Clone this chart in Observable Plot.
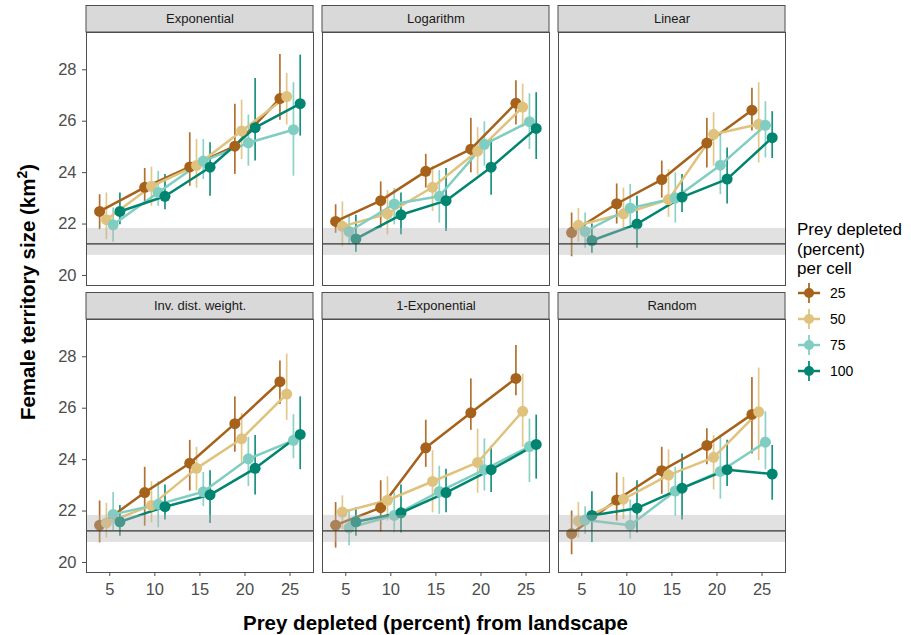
<!DOCTYPE html>
<html><head><meta charset="utf-8">
<script src="https://cdn.jsdelivr.net/npm/d3@7"></script>
<script src="https://cdn.jsdelivr.net/npm/@observablehq/plot@0.6"></script>
<style>
html,body{margin:0;padding:0;background:#fff;}
#wrap{position:relative;width:911px;height:635px;overflow:hidden;font-family:"Liberation Sans",Arial,sans-serif;}
#wrap svg{position:absolute;left:0;top:0;overflow:visible;}
.ytitle{position:absolute;left:28px;top:292px;transform:translate(-50%,-50%) rotate(-90deg);white-space:nowrap;font-weight:bold;font-size:20.5px;color:#000;line-height:20px;}
.ytitle sup{font-size:14px;line-height:0;}
.xtitle{position:absolute;left:435.5px;top:613px;transform:translateX(-50%);white-space:nowrap;font-weight:bold;font-size:20.5px;line-height:20px;color:#000;}
#legend{position:absolute;left:797px;top:220px;white-space:nowrap;}
#legend .lt{font-size:17px;line-height:19.5px;color:#000;}
#legend .row{position:absolute;left:0;height:26px;display:flex;align-items:center;}
#legend .row span{position:absolute;left:33px;font-size:14px;color:#000;line-height:26px;top:0;}
</style></head><body>
<div id="wrap"></div>
<script>
// ---- data ----
const panels = ["Exponential","Logarithm","Linear","Inv. dist. weight.","1-Exponential","Random"];
const depletion = [5, 10, 15, 20, 25];
const perCell = ["25","50","75","100"];
const colors = ["#A6611A","#DFC27D","#80CDC1","#018571"];
const dodge = [-1.125, -0.375, 0.375, 1.125];
const yTicks = [20, 22, 24, 26, 28];
const refLine = [21.23];
const refBand = [20.78, 21.83];

const expMean = [[22.49,23.43,24.22,25.03,26.88],[22.17,23.47,24.28,25.62,26.96],[21.97,23.23,24.45,25.16,25.67],[22.49,23.08,24.21,25.75,26.68]];
const expLo   = [[21.78,22.75,23.47,23.93,26.04],[21.39,22.69,23.40,24.51,25.85],[21.29,22.69,23.73,24.25,23.86],[21.97,22.56,23.08,24.45,25.42]];
const expHi   = [[23.14,24.16,25.55,26.66,28.59],[23.21,24.21,25.29,26.82,27.86],[22.62,24.05,25.29,26.24,27.50],[23.21,23.93,25.16,27.66,28.57]];

const logMean = [[22.10,22.91,24.05,24.91,26.70],[21.91,22.40,23.43,24.84,26.55],[21.71,22.78,23.08,25.10,25.98],[21.42,22.36,22.91,24.21,25.72]];
const logLo   = [[21.64,21.84,23.40,23.99,25.85],[21.12,21.58,22.49,23.90,25.75],[21.19,21.97,22.04,24.25,24.90],[20.90,21.58,21.71,23.12,24.51]];
const logHi   = [[22.75,23.64,24.71,26.11,27.57],[22.86,23.30,24.25,25.75,27.44],[22.30,23.38,24.08,25.98,27.07],[22.34,23.21,24.16,25.29,27.11]];

const linMean = [[21.67,22.79,23.73,25.15,26.43],[21.95,22.40,22.95,25.49,25.88],[21.71,22.62,23.01,24.29,25.84],[21.36,22.00,23.05,23.75,25.36]];
const linLo   = [[20.73,22.00,23.01,24.18,25.62],[21.29,21.78,22.26,24.25,24.38],[21.06,21.84,22.04,23.14,24.57],[20.86,21.06,22.45,22.78,24.55]];
const linHi   = [[22.43,23.56,24.45,26.11,27.28],[22.60,23.40,24.12,26.33,27.50],[22.43,23.54,23.99,25.49,26.76],[22.00,23.08,23.93,24.96,26.37]];

const idwMean = [[21.45,22.72,23.86,25.40,27.03],[21.54,22.22,23.66,24.81,26.55],[21.87,22.26,22.75,24.03,24.75],[21.58,22.17,22.63,23.66,24.98]];
const idwLo   = [[20.76,21.41,22.78,24.29,26.14],[20.95,21.54,22.78,23.89,25.53],[21.22,21.35,22.17,22.95,24.03],[21.02,21.65,21.52,22.62,23.61]];
const idwHi   = [[22.39,23.70,24.75,26.44,27.84],[22.30,23.14,24.48,25.79,28.10],[22.72,23.14,23.50,24.87,25.75],[22.22,23.01,23.57,24.94,26.44]];

const oneMean = [[21.45,22.13,24.46,25.82,27.16],[21.96,22.42,23.15,23.89,25.88],[21.35,21.83,22.76,23.61,24.51],[21.58,21.93,22.72,23.61,24.59]];
const oneLo   = [[20.56,21.18,23.70,25.14,26.48],[21.28,21.61,21.93,22.69,24.48],[20.65,21.15,21.87,22.78,23.11],[21.02,21.15,21.93,22.72,23.24]];
const oneHi   = [[22.33,23.18,25.53,27.14,28.44],[22.59,23.33,24.35,25.18,27.32],[22.00,22.72,23.74,24.81,25.57],[22.13,23.01,23.63,24.52,25.73]];

const rndMean = [[21.12,22.43,23.57,24.55,25.76],[21.61,22.46,23.40,24.09,25.86],[21.65,21.45,22.78,23.54,24.68],[21.83,22.11,22.89,23.61,23.44]];
const rndLo   = [[20.30,21.61,22.65,23.80,24.22],[20.95,21.67,22.48,22.82,23.96],[21.09,20.91,21.80,22.46,23.61],[20.78,21.15,21.65,22.95,22.42]];
const rndHi   = [[22.00,23.48,24.48,25.20,27.19],[22.33,23.31,24.38,24.94,27.56],[22.17,22.43,23.70,24.91,25.86],[22.75,23.18,24.22,24.75,24.55]];

// ---- table ----
const means = [expMean, logMean, linMean, idwMean, oneMean, rndMean];
const los = [expLo, logLo, linLo, idwLo, oneLo, rndLo];
const his = [expHi, logHi, linHi, idwHi, oneHi, rndHi];
const rows = [];
panels.forEach((p, pi) => {
  perCell.forEach((s, si) => {
    depletion.forEach((x, xi) => {
      rows.push({panel: p, col: pi % 3, row: Math.floor(pi / 3), series: s,
        x: x + dodge[si], y: means[pi][si][xi], lo: los[pi][si][xi], hi: his[pi][si][xi]});
    });
  });
});
const strips = panels.map((p, pi) => ({panel: p, col: pi % 3, row: Math.floor(pi / 3)}));

const xDomain = [2.42, 27.6];
const yDomain = [19.61, 29.45];
const stripUnits = 26.5 / (253 / (yDomain[1] - yDomain[0]));

const chart = Plot.plot({
  width: 911, height: 635,
  marginLeft: 86, marginRight: 126, marginTop: 32, marginBottom: 63,
  style: {fontFamily: "'Liberation Sans', Arial, sans-serif", background: "white", overflow: "visible"},
  fx: {domain: [0, 1, 2], paddingInner: 9 / 236, paddingOuter: 0, round: false, axis: null},
  fy: {domain: [0, 1], paddingInner: 34 / 287, paddingOuter: 0, round: false, axis: null},
  x: {domain: xDomain},
  y: {domain: yDomain},
  color: {domain: perCell, range: colors},
  marks: [
    Plot.ruleX(rows, {fx: "col", fy: "row", x: "x", y1: "lo", y2: "hi", stroke: "series", strokeWidth: 1.7, strokeOpacity: 0.9}),
    Plot.line(rows, {fx: "col", fy: "row", x: "x", y: "y", z: "series", stroke: "series", strokeWidth: 2.5}),
    Plot.dot(rows, {fx: "col", fy: "row", x: "x", y: "y", fill: "series", r: 5.5}),
    Plot.rect([refBand], {x1: () => xDomain[0], x2: () => xDomain[1], y1: d => d[0], y2: d => d[1], fill: "#b3b3b3", fillOpacity: 0.4}),
    Plot.ruleY(refLine, {stroke: "#333", strokeWidth: 1.2}),
    Plot.rect(strips, {fx: "col", fy: "row", x1: () => xDomain[0], x2: () => xDomain[1], y1: () => yDomain[1], y2: () => yDomain[1] + stripUnits, fill: "#d9d9d9", stroke: "#4d4d4d", strokeWidth: 1}),
    Plot.text(strips, {fx: "col", fy: "row", text: "panel", frameAnchor: "top", lineAnchor: "middle", dy: -13.3, fontSize: 13, fill: "#1a1a1a"}),
    Plot.frame({stroke: "#4d4d4d", strokeWidth: 1}),
    Plot.axisX({ticks: depletion, tickSize: 4, tickPadding: 7, fontSize: 16.5, color: "#4d4d4d", label: null, facetAnchor: "bottom"}),
    Plot.axisY({ticks: yTicks, tickSize: 4, tickPadding: 6, fontSize: 16.5, color: "#4d4d4d", label: null, facetAnchor: "left"})
  ]
});

const wrap = document.getElementById("wrap");
wrap.appendChild(chart);

const yt = document.createElement("div");
yt.className = "ytitle";
yt.innerHTML = "Female territory size (km<sup>2</sup>)";
wrap.appendChild(yt);

const xt = document.createElement("div");
xt.className = "xtitle";
xt.textContent = "Prey depleted (percent) from landscape";
wrap.appendChild(xt);

const lg = document.createElement("div");
lg.id = "legend";
lg.innerHTML = '<div class="lt">Prey depleted<br>(percent)<br>per cell</div>';
const rowCenters = [73.3, 99.3, 125, 151];
perCell.forEach((s, i) => {
  const r = document.createElement("div");
  r.className = "row";
  r.style.top = (rowCenters[i] - 13) + "px";
  const c = colors[i];
  r.innerHTML = `<svg width="26" height="26" style="position:static;overflow:visible"><line x1="1" x2="23" y1="13" y2="13" stroke="${c}" stroke-width="2.5"/><line x1="12" x2="12" y1="3" y2="23" stroke="${c}" stroke-width="1.7"/><circle cx="12" cy="13" r="5" fill="${c}"/></svg><span>${s}</span>`;
  lg.appendChild(r);
});
wrap.appendChild(lg);
</script>
</body></html>
